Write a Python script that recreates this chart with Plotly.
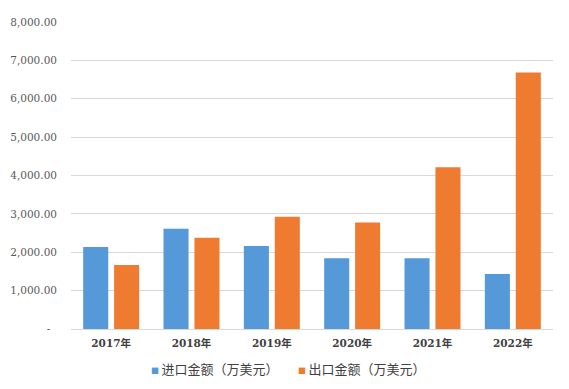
import plotly.graph_objects as go

categories = ["2017年", "2018年", "2019年", "2020年", "2021年", "2022年"]
import_values = [2140, 2615, 2165, 1845, 1845, 1430]
export_values = [1665, 2375, 2928, 2772, 4213, 6684]
series_names = ["进口金额（万美元）", "出口金额（万美元）"]
series_colors = ["#5699D8", "#EF7B30"]
tick_values = [0, 1000, 2000, 3000, 4000, 5000, 6000, 7000, 8000]
tick_labels = ["-\u00a0\u00a0", "1,000.00", "2,000.00", "3,000.00", "4,000.00",
               "5,000.00", "6,000.00", "7,000.00", "8,000.00"]

font_num = "DejaVu Serif, Noto Sans CJK SC, serif"
font_cjk = "Noto Sans CJK SC, DejaVu Serif, serif"

# plot area in pixels (used only for placing legend entries)
L, R = 71, 553

fig = go.Figure()
for vals, name, color in zip([import_values, export_values], series_names, series_colors):
    fig.add_trace(go.Bar(
        x=categories, y=vals, name=name, showlegend=False,
        marker=dict(color=color, line=dict(width=0)),
    ))

# legend entries (square swatch + series name)
legend_px = [149, 296]
for px, name, color in zip(legend_px, series_names, series_colors):
    fig.add_annotation(
        xref="paper", yref="paper", x=(px - L) / (R - L), y=-(369 - 329.3) / 307.6,
        xanchor="left", yanchor="middle", showarrow=False,
        text=f"<span style='color:{color};font-size:8px'>■</span>\u2009{name}",
        font=dict(family=font_cjk, size=13, color="#404040"),
    )

fig.update_layout(
    width=569, height=389,
    margin=dict(l=L, r=569 - R, t=22, b=60, autoexpand=False),
    paper_bgcolor="white", plot_bgcolor="white",
    barmode="group", bargap=0.23, bargroupgap=0.19,
    font=dict(family=font_num, size=11, color="#595959"),
    showlegend=False,
    xaxis=dict(
        showgrid=False, showline=False, ticks="", automargin=False,
        tickfont=dict(family=font_num, size=10.5, color="#404040", weight="bold"),
        ticklabelstandoff=6,
    ),
    yaxis=dict(
        range=[0, 8000], tickvals=tick_values, ticktext=tick_labels,
        showgrid=True, gridcolor="#D9D9D9", gridwidth=1,
        zeroline=True, zerolinecolor="#D9D9D9", zerolinewidth=1,
        showline=False, ticks="", automargin=False,
        tickfont=dict(family=font_num, size=10.5, color="#595959"),
        ticklabelstandoff=13,
    ),
)

fig.write_html("out.html", config={"displayModeBar": False},
               post_script="document.body.style.margin='0';")
